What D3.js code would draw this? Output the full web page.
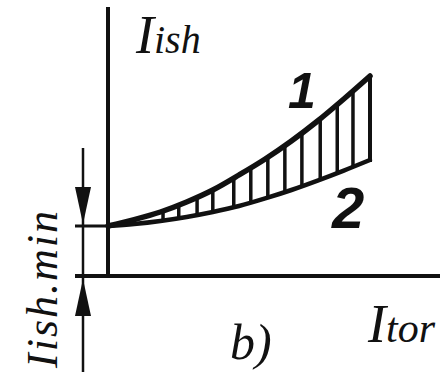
<!DOCTYPE html>
<html>
<head>
<meta charset="utf-8">
<script src="https://cdn.jsdelivr.net/npm/d3@7"></script>
<style>
  html, body { margin: 0; padding: 0; background: #fff; }
  svg { display: block; }
  .lbl { font-family: "Liberation Serif", "DejaVu Serif", serif; font-style: italic; fill: #111; }
  .num { font-family: "Liberation Sans", "DejaVu Sans", sans-serif; font-style: italic; font-weight: bold; fill: #111; }
</style>
</head>
<body>
<script>
// Itor sample points and the two characteristic curves (Iish vs Itor)
const itor   = [0, 1, 2, 3, 4, 5, 6, 7, 8, 9, 10];
const curve1 = [2.5, 2.82, 3.2, 3.7, 4.3, 5.05, 5.85, 6.75, 7.75, 8.85, 10.0];
const curve2 = [2.5, 2.6, 2.75, 2.95, 3.2, 3.5, 3.88, 4.3, 4.77, 5.27, 5.8];
// Positions of the hatching strokes filling the band between the curves
const hatchAt = [2.1, 2.7, 3.4, 4.0, 4.8, 5.45, 6.1, 6.75, 7.4, 8.1, 8.75, 9.35];
// Minimum Iish level at Itor = 0
const iishMin = 2.5;

const W = 440, H = 372;
const svg = d3.select("body").append("svg").attr("width", W).attr("height", H);

const x = d3.scaleLinear().domain([0, 10]).range([108, 370]);
const y = d3.scaleLinear().domain([0, 10]).range([276, 76]);

const ink = "#111";

// Axes
svg.append("line").attr("x1", x(0)).attr("x2", x(0)).attr("y1", 7).attr("y2", y(0) + 2)
  .attr("stroke", ink).attr("stroke-width", 4);
svg.append("line").attr("x1", 75).attr("x2", W).attr("y1", y(0)).attr("y2", y(0))
  .attr("stroke", ink).attr("stroke-width", 4);

// Iish.min level line
svg.append("line").attr("x1", 75).attr("x2", x(0)).attr("y1", y(iishMin)).attr("y2", y(iishMin))
  .attr("stroke", ink).attr("stroke-width", 3);

// Dimension line with arrows
const dx = 83;
svg.append("line").attr("x1", dx).attr("x2", dx).attr("y1", 148).attr("y2", H)
  .attr("stroke", ink).attr("stroke-width", 2.5);
const tipTop = y(iishMin) - 2, tipBot = y(0) + 3;
svg.append("path")
  .attr("d", `M${dx},${tipTop} L${dx - 8},${tipTop - 37} L${dx + 8},${tipTop - 37} Z`)
  .attr("fill", ink);
svg.append("path")
  .attr("d", `M${dx},${tipBot} L${dx - 8},${tipBot + 37} L${dx + 8},${tipBot + 37} Z`)
  .attr("fill", ink);

// Linear lookup on a curve for the hatch endpoints
function valAt(series, v) {
  const i = Math.min(itor.length - 2, Math.max(0, d3.bisectRight(itor, v) - 1));
  const t = (v - itor[i]) / (itor[i + 1] - itor[i]);
  return series[i] + (series[i + 1] - series[i]) * t;
}

// Hatching
svg.append("g").selectAll("line").data(hatchAt).join("line")
  .attr("x1", d => x(d)).attr("x2", d => x(d))
  .attr("y1", d => y(valAt(curve1, d))).attr("y2", d => y(valAt(curve2, d)))
  .attr("stroke", ink).attr("stroke-width", 3.5);

// Closing edge at the end of the band
svg.append("line")
  .attr("x1", x(itor[itor.length - 1])).attr("x2", x(itor[itor.length - 1]))
  .attr("y1", y(curve1[curve1.length - 1]) - 2).attr("y2", y(curve2[curve2.length - 1]) + 2)
  .attr("stroke", ink).attr("stroke-width", 4);

// Curves
const line = d3.line().x((d, i) => x(itor[i])).y(d => y(d)).curve(d3.curveMonotoneX);
svg.append("path").datum(curve1).attr("d", line).attr("fill", "none")
  .attr("stroke", ink).attr("stroke-width", 5.5).attr("stroke-linecap", "round");
svg.append("path").datum(curve2).attr("d", line).attr("fill", "none")
  .attr("stroke", ink).attr("stroke-width", 4.5).attr("stroke-linecap", "round");

// Labels
const tIish = svg.append("text").attr("class", "lbl").attr("x", 136).attr("y", 53);
tIish.append("tspan").attr("font-size", 54).text("I");
tIish.append("tspan").attr("font-size", 40).text("ish");

const tItor = svg.append("text").attr("class", "lbl").attr("x", 368).attr("y", 342);
tItor.append("tspan").attr("font-size", 54).text("I");
tItor.append("tspan").attr("font-size", 42).text("tor");

svg.append("text").attr("class", "lbl").attr("x", 230).attr("y", 359)
  .attr("font-size", 50).text("b)");

svg.append("text").attr("class", "num").attr("x", 288).attr("y", 108)
  .attr("font-size", 50).text("1");
svg.append("text").attr("class", "num").attr("x", 332).attr("y", 228)
  .attr("font-size", 58).text("2");

svg.append("text").attr("class", "lbl")
  .attr("transform", "translate(57,368) rotate(-90)")
  .attr("font-size", 44).attr("letter-spacing", 2).text("Iish.min");
</script>
</body>
</html>
